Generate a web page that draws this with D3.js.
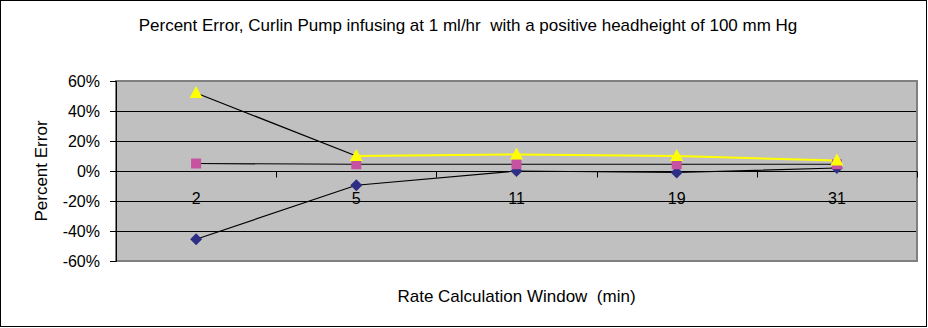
<!DOCTYPE html>
<html><head><meta charset="utf-8">
<script src="https://cdn.jsdelivr.net/npm/d3@7"></script>
<style>body{margin:0;background:#fff}svg{display:block;font-family:"Liberation Sans",Arial,sans-serif}text{white-space:pre}</style>
</head><body><svg id="c" width="928" height="328"></svg>
<script>
const categories = ["2","5","11","19","31"];
const seriesDiamond = [-45.5, -9.5, 0, -1, 2];
const seriesSquare = [5, 4.5, 4.5, 4.5, 4.5];
const seriesTriangle = [52, 10, 11, 10, 7];
const yTicks = [-60,-40,-20,0,20,40,60];
const title = "Percent Error, Curlin Pump infusing at 1 ml/hr  with a positive headheight of 100 mm Hg";
const xTitle = "Rate Calculation Window  (min)";
const yTitle = "Percent Error";

const svg = d3.select("#c");
const W = 928, H = 328;
const m = {left:116, right:917, top:81, bottom:261};

svg.append("rect").attr("x",0.5).attr("y",0.5).attr("width",W-2).attr("height",H-2)
  .attr("fill","#fff").attr("stroke","#000").attr("stroke-width",1);

const x = d3.scaleBand().domain(categories).range([m.left, m.right]);
const y = d3.scaleLinear().domain([-60,60]).range([m.bottom, m.top]);
const cx = d => x(d) + x.bandwidth()/2;

// plot area
svg.append("rect").attr("x",m.left).attr("y",m.top).attr("width",m.right-m.left).attr("height",m.bottom-m.top)
  .attr("fill","#C0C0C0");

// gridlines
svg.append("g").selectAll("line").data(yTicks.filter(t=>t!==-60 && t!==60)).join("line")
  .attr("x1",m.left).attr("x2",m.right)
  .attr("y1",d=>Math.round(y(d))+0.5).attr("y2",d=>Math.round(y(d))+0.5)
  .attr("stroke","#000").attr("stroke-width",1);

// plot border
svg.append("rect").attr("x",m.left).attr("y",m.top).attr("width",m.right-m.left).attr("height",m.bottom-m.top)
  .attr("fill","none").attr("stroke","#808080").attr("stroke-width",2);

// y axis
const yAxis = d3.axisLeft(y).tickValues(yTicks).tickFormat(d=>d+"%").tickSize(6).tickPadding(10);
const ga = svg.append("g").attr("transform",`translate(${m.left},0)`).call(yAxis);
ga.select(".domain").attr("stroke","#000");
ga.selectAll(".tick line").attr("stroke","#000");
ga.selectAll("text").attr("font-size",16).attr("fill","#000").style("font-family","Liberation Sans, Arial, sans-serif");

// x axis at 0
const y0 = Math.round(y(0))+0.5;
const bounds = categories.map(c=>x(c)).concat([m.right]);
svg.append("line").attr("x1",m.left).attr("x2",m.right).attr("y1",y0).attr("y2",y0).attr("stroke","#000");
svg.append("g").selectAll("line").data(bounds).join("line")
  .attr("x1",d=>Math.round(d)+0.5).attr("x2",d=>Math.round(d)+0.5)
  .attr("y1",y0).attr("y2",y0+6).attr("stroke","#000");
svg.append("g").selectAll("text").data(categories).join("text")
  .attr("x",d=>cx(d)).attr("y",204).attr("text-anchor","middle")
  .attr("font-size",16).attr("fill","#000").text(d=>d);

const line = d3.line().x((d,i)=>cx(categories[i])).y(d=>y(d));

// series lines
svg.append("path").attr("d",line(seriesDiamond)).attr("fill","none").attr("stroke","#000").attr("stroke-width",1.2);
svg.append("path").attr("d",line(seriesSquare)).attr("fill","none").attr("stroke","#000").attr("stroke-width",1.2);
const triLine = d3.line().x((d,i)=>cx(categories[i+1])).y(d=>y(d));
svg.append("path").attr("d",triLine(seriesTriangle.slice(1))).attr("fill","none").attr("stroke","#FFFF00").attr("stroke-width",2);
svg.append("path").attr("d",line(seriesTriangle.slice(0,2))).attr("fill","none").attr("stroke","#000").attr("stroke-width",1.2);

// markers
const diamondCol = "#2D2F84", squareCol = "#C652A0", triCol = "#FFFF00";
svg.append("g").selectAll("path").data(seriesDiamond).join("path")
  .attr("transform",(d,i)=>`translate(${cx(categories[i])},${y(d)})`)
  .attr("d","M0,-6L6,0L0,6L-6,0Z").attr("fill",diamondCol);
svg.append("g").selectAll("rect").data(seriesSquare).join("rect")
  .attr("x",(d,i)=>cx(categories[i])-5).attr("y",d=>y(d)-5)
  .attr("width",10).attr("height",10).attr("fill",squareCol);
svg.append("g").selectAll("path").data(seriesTriangle).join("path")
  .attr("transform",(d,i)=>`translate(${cx(categories[i])},${y(d)})`)
  .attr("d","M0,-7L6.5,5L-6.5,5Z").attr("fill",triCol);

// titles
svg.append("text").attr("x",468).attr("y",31).attr("text-anchor","middle")
  .attr("font-size",17).attr("fill","#000").text(title);
svg.append("text").attr("x",(m.left+m.right)/2).attr("y",302).attr("text-anchor","middle")
  .attr("font-size",17).attr("fill","#000").text(xTitle);
svg.append("text").attr("transform",`translate(47,${(m.top+m.bottom)/2}) rotate(-90)`).attr("text-anchor","middle")
  .attr("font-size",17).attr("fill","#000").text(yTitle);
</script></body></html>
